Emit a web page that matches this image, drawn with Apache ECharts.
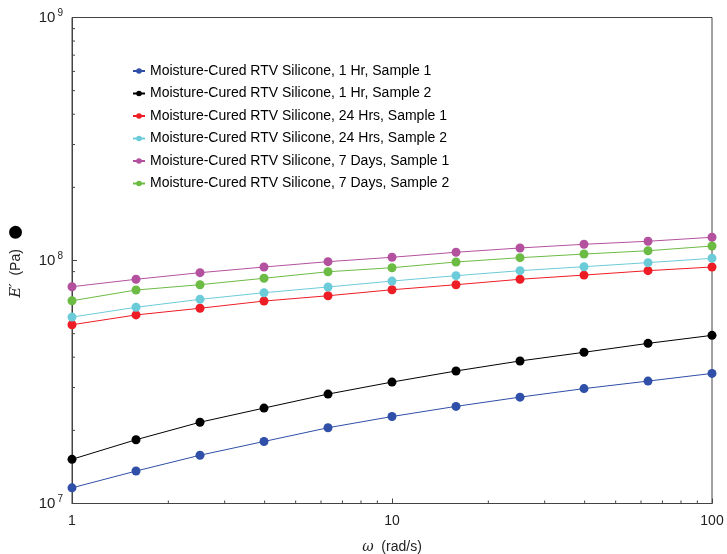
<!DOCTYPE html>
<html><head><meta charset="utf-8">
<script src="https://cdn.jsdelivr.net/npm/echarts@6/dist/echarts.min.js"></script>
<style>html,body{margin:0;padding:0;background:#fff}#c{width:727px;height:554px}</style>
</head><body><div id="c"></div>
<script>
const omega = [1, 1.585, 2.512, 3.981, 6.310, 10, 15.85, 25.12, 39.81, 63.10, 100];
const names = [
  'Moisture-Cured RTV Silicone, 1 Hr, Sample 1',
  'Moisture-Cured RTV Silicone, 1 Hr, Sample 2',
  'Moisture-Cured RTV Silicone, 24 Hrs, Sample 1',
  'Moisture-Cured RTV Silicone, 24 Hrs, Sample 2',
  'Moisture-Cured RTV Silicone, 7 Days, Sample 1',
  'Moisture-Cured RTV Silicone, 7 Days, Sample 2'
];
const hr1s1 = [1.16e7, 1.36e7, 1.58e7, 1.80e7, 2.05e7, 2.28e7, 2.51e7, 2.74e7, 2.97e7, 3.19e7, 3.43e7];
const hr1s2 = [1.52e7, 1.83e7, 2.16e7, 2.47e7, 2.82e7, 3.16e7, 3.51e7, 3.86e7, 4.19e7, 4.56e7, 4.92e7];
const hr24s1 = [5.44e7, 5.97e7, 6.36e7, 6.81e7, 7.16e7, 7.58e7, 7.95e7, 8.37e7, 8.71e7, 9.08e7, 9.40e7];
const hr24s2 = [5.85e7, 6.42e7, 6.92e7, 7.37e7, 7.78e7, 8.23e7, 8.66e7, 9.08e7, 9.43e7, 9.80e7, 1.021e8];
const d7s1 = [7.80e7, 8.37e7, 8.91e7, 9.40e7, 9.89e7, 1.031e8, 1.081e8, 1.126e8, 1.166e8, 1.20e8, 1.246e8];
const d7s2 = [6.83e7, 7.56e7, 7.95e7, 8.45e7, 8.99e7, 9.34e7, 9.86e7, 1.027e8, 1.063e8, 1.097e8, 1.147e8];
const seriesValues = [hr1s1, hr1s2, hr24s1, hr24s2, d7s1, d7s2];
const colors = ['#2f4fa8', '#000000', '#ee1c24', '#6ccbd9', '#b4519f', '#6cbb45'];
const xMinorTicks = [2,3,4,5,6,7,8,9,20,30,40,50,60,70,80,90];
const yMinorTicks = [2e7,3e7,4e7,5e7,6e7,7e7,8e7,9e7,2e8,3e8,4e8,5e8,6e8,7e8,8e8,9e8];

const chart = echarts.init(document.getElementById('c'));
const axisColor = '#444';
const font = 'Liberation Sans, Arial, sans-serif';

const series = seriesValues.map((vals, i) => ({
  name: names[i],
  type: 'line',
  data: omega.map((x, j) => [x, vals[j]]),
  symbol: 'circle',
  symbolSize: 9,
  itemStyle: { color: colors[i] },
  lineStyle: { color: colors[i], width: 1 },
  z: 3
}));

series.push({
  type: 'custom',
  silent: true,
  data: xMinorTicks.map(v => [v, 1e7]),
  renderItem: (params, api) => {
    const p = api.coord([api.value(0), api.value(1)]);
    return { type: 'line', shape: { x1: p[0], y1: p[1], x2: p[0], y2: p[1] - 3 }, style: { stroke: axisColor, lineWidth: 1 } };
  },
  z: 2
});
series.push({
  type: 'custom',
  silent: true,
  data: yMinorTicks.map(v => [1, v]),
  renderItem: (params, api) => {
    const p = api.coord([api.value(0), api.value(1)]);
    return { type: 'line', shape: { x1: p[0], y1: p[1], x2: p[0] + 3, y2: p[1] }, style: { stroke: axisColor, lineWidth: 1 } };
  },
  z: 2
});

chart.setOption({
  animation: false,
  color: colors,
  textStyle: { fontFamily: font },
  grid: { left: 72, right: 15, top: 17.5, bottom: 50.5, containLabel: false, outerBoundsMode: 'none',
    show: true, borderColor: axisColor, borderWidth: 1, backgroundColor: 'transparent' },
  legend: {
    data: names,
    orient: 'vertical',
    left: 127,
    top: 59,
    itemWidth: 12,
    itemHeight: 7,
    itemGap: 8.5,
    textStyle: { fontSize: 14, color: '#000', fontFamily: font }
  },
  xAxis: {
    type: 'log',
    logBase: 10,
    min: 1,
    max: 100,
    name: '{w|ω}  (rad/s)',
    nameLocation: 'middle',
    nameGap: 37,
    nameMoveOverlap: false,
    nameTextStyle: { fontSize: 14, color: '#222', fontFamily: font, rich: { w: { fontStyle: 'italic', fontSize: 14, fontFamily: 'DejaVu Serif' } } },
    axisLine: { lineStyle: { color: axisColor } },
    axisTick: { inside: true, length: 5, lineStyle: { color: axisColor } },
    axisLabel: { fontSize: 14, color: '#222', margin: 11, fontFamily: font },
    splitLine: { show: false }
  },
  yAxis: {
    type: 'log',
    logBase: 10,
    min: 1e7,
    max: 1e9,
    name: '{e|E′}  {p|(Pa)}  {d|●}',
    nameLocation: 'middle',
    nameGap: 41,
    nameMoveOverlap: false,
    nameRotate: 90,
    nameTextStyle: { fontSize: 14, color: '#222', fontFamily: font,
      rich: { e: { fontStyle: 'italic', fontSize: 15, fontFamily: 'DejaVu Serif' },
              p: { fontSize: 14, fontFamily: font, color: '#222' },
              d: { fontSize: 30, color: '#000', fontFamily: font } } },
    axisLine: { lineStyle: { color: axisColor } },
    axisTick: { inside: true, length: 5, lineStyle: { color: axisColor } },
    axisLabel: {
      margin: 9,
      formatter: v => '{b|10}{s|' + Math.round(Math.log10(v)) + '}',
      rich: {
        b: { fontSize: 15, color: '#222', fontFamily: font },
        s: { fontSize: 10, color: '#222', fontFamily: font, padding: [0, 0, 9, 2] }
      }
    },
    splitLine: { show: false }
  },
  series: series
});
</script></body></html>
